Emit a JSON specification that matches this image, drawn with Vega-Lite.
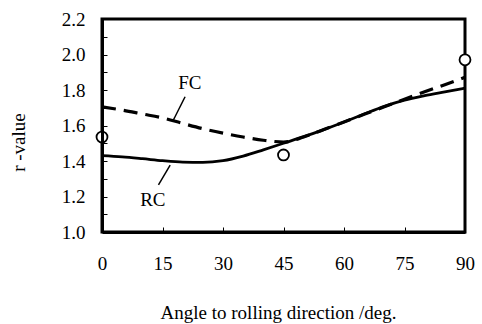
{
  "$schema": "https://vega.github.io/schema/vega-lite/v6.json",
  "width": 363,
  "height": 213,
  "autosize": {"type": "none"},
  "padding": {"left": 102, "top": 19, "right": 17, "bottom": 92},
  "background": "white",
  "config": {
    "view": {"stroke": "black", "strokeWidth": 3},
    "font": "Liberation Serif",
    "axis": {
      "labelFont": "Liberation Serif",
      "titleFont": "Liberation Serif",
      "labelFontSize": 19,
      "titleFontSize": 19,
      "titleFontWeight": "normal",
      "labelColor": "#000000",
      "titleColor": "#000000",
      "domainColor": "#000000",
      "domainWidth": 3,
      "labelFlush": false,
      "labelOverlap": false,
      "grid": false
    }
  },
  "datasets": {
    "curves": [
      {"angle": 0, "r": 1.43, "series": "RC"},
      {"angle": 5, "r": 1.423, "series": "RC"},
      {"angle": 10, "r": 1.413, "series": "RC"},
      {"angle": 15, "r": 1.402, "series": "RC"},
      {"angle": 20, "r": 1.394, "series": "RC"},
      {"angle": 25, "r": 1.392, "series": "RC"},
      {"angle": 30, "r": 1.402, "series": "RC"},
      {"angle": 35, "r": 1.428, "series": "RC"},
      {"angle": 40, "r": 1.463, "series": "RC"},
      {"angle": 45, "r": 1.5, "series": "RC"},
      {"angle": 50, "r": 1.537, "series": "RC"},
      {"angle": 55, "r": 1.577, "series": "RC"},
      {"angle": 60, "r": 1.62, "series": "RC"},
      {"angle": 65, "r": 1.665, "series": "RC"},
      {"angle": 70, "r": 1.708, "series": "RC"},
      {"angle": 75, "r": 1.743, "series": "RC"},
      {"angle": 80, "r": 1.768, "series": "RC"},
      {"angle": 85, "r": 1.789, "series": "RC"},
      {"angle": 90, "r": 1.81, "series": "RC"},
      {"angle": 0, "r": 1.705, "series": "FC"},
      {"angle": 5, "r": 1.687, "series": "FC"},
      {"angle": 10, "r": 1.665, "series": "FC"},
      {"angle": 15, "r": 1.643, "series": "FC"},
      {"angle": 20, "r": 1.612, "series": "FC"},
      {"angle": 25, "r": 1.582, "series": "FC"},
      {"angle": 30, "r": 1.557, "series": "FC"},
      {"angle": 35, "r": 1.535, "series": "FC"},
      {"angle": 40, "r": 1.517, "series": "FC"},
      {"angle": 45, "r": 1.507, "series": "FC"},
      {"angle": 50, "r": 1.535, "series": "FC"},
      {"angle": 55, "r": 1.578, "series": "FC"},
      {"angle": 60, "r": 1.62, "series": "FC"},
      {"angle": 65, "r": 1.663, "series": "FC"},
      {"angle": 70, "r": 1.705, "series": "FC"},
      {"angle": 75, "r": 1.748, "series": "FC"},
      {"angle": 80, "r": 1.79, "series": "FC"},
      {"angle": 85, "r": 1.83, "series": "FC"},
      {"angle": 90, "r": 1.872, "series": "FC"}
    ],
    "measured": [
      {"angle": 0, "r": 1.535},
      {"angle": 45, "r": 1.434},
      {"angle": 90, "r": 1.97}
    ],
    "labels": [
      {"angle": 21.8, "r": 1.837, "text": "FC"},
      {"angle": 12.6, "r": 1.18, "text": "RC"}
    ],
    "leaders": [
      {"angle": 20.6, "r": 1.762, "angle2": 17.7, "r2": 1.631},
      {"angle": 16.9, "r": 1.377, "angle2": 14.0, "r2": 1.265}
    ]
  },
  "encoding": {
    "x": {
      "field": "angle",
      "type": "quantitative",
      "scale": {"domain": [0, 90], "nice": false, "zero": false},
      "axis": {
        "title": "Angle to rolling direction /deg.",
        "values": [0, 15, 30, 45, 60, 75, 90],
        "tickSize": -5,
        "tickColor": "#000000",
        "tickWidth": 1,
        "zindex": 1,
        "labelPadding": 27,
        "titlePadding": 30,
        "titleX": 176
      }
    },
    "y": {
      "field": "r",
      "type": "quantitative",
      "scale": {"domain": [1.0, 2.2], "nice": false, "zero": false},
      "axis": {
        "title": "r -value",
        "values": [1.0, 1.1, 1.2, 1.3, 1.4, 1.5, 1.6, 1.7, 1.8, 1.9, 2.0, 2.1, 2.2],
        "labelExpr": "round(datum.value * 10) % 2 == 0 ? format(datum.value, '.1f') : ''",
        "labelOverlap": false,
        "tickSize": -5,
        "tickColor": "#000000",
        "tickWidth": 1,
        "zindex": 1,
        "labelPadding": 22,
        "titleY": 123,
        "titlePadding": 33
      }
    }
  },
  "layer": [
    {
      "data": {"name": "curves"},
      "transform": [{"filter": "datum.series === 'RC'"}],
      "mark": {"type": "line", "color": "black", "strokeWidth": 2.8, "interpolate": "monotone"}
    },
    {
      "data": {"name": "curves"},
      "transform": [{"filter": "datum.series === 'FC'"}],
      "mark": {"type": "line", "color": "black", "strokeWidth": 3.2, "strokeDash": [14, 8], "interpolate": "monotone"}
    },
    {
      "data": {"name": "leaders"},
      "mark": {"type": "rule", "color": "black", "strokeWidth": 1.5},
      "encoding": {
        "x2": {"field": "angle2"},
        "y2": {"field": "r2"}
      }
    },
    {
      "data": {"name": "labels"},
      "mark": {"type": "text", "font": "Liberation Serif", "fontSize": 19, "color": "black", "align": "center", "baseline": "middle"},
      "encoding": {
        "text": {"field": "text"}
      }
    },
    {
      "data": {"name": "measured"},
      "mark": {"type": "point", "shape": "circle", "filled": true, "fill": "white", "stroke": "black", "strokeWidth": 1.8, "size": 120, "opacity": 1}
    }
  ]
}
